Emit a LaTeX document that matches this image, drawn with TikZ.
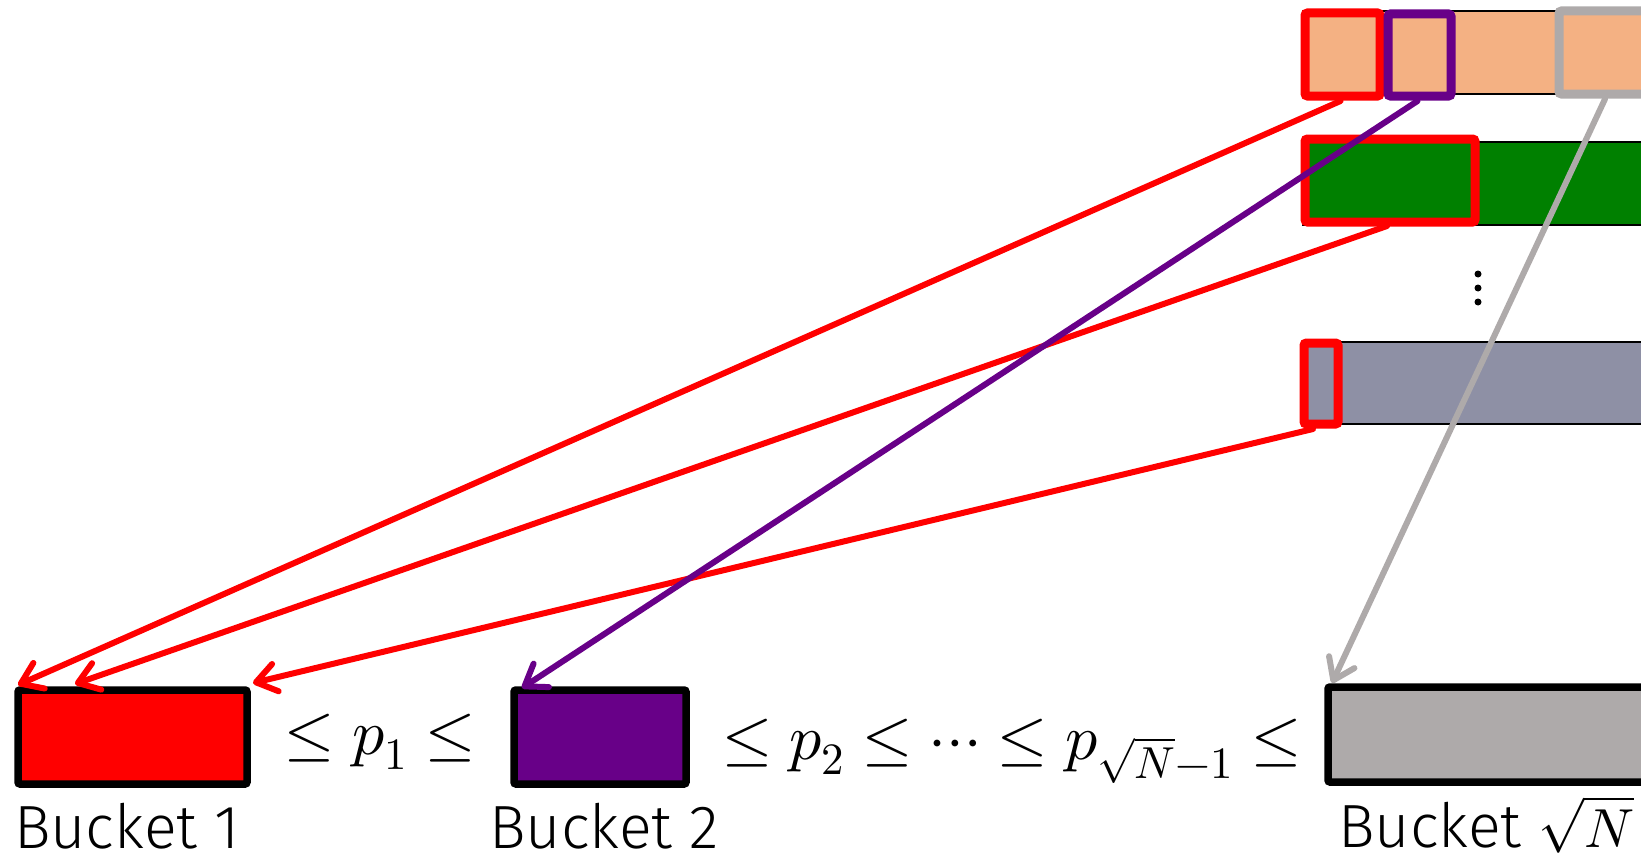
\documentclass[tikz,border=0pt]{standalone}
\usepackage{fontspec}
\usepackage{unicode-math}
\newfontfamily\bfam{Fira Sans Light}
\usetikzlibrary{arrows.meta,calc}
\definecolor{peach}{HTML}{F4B183}
\definecolor{dgreen}{HTML}{008000}
\definecolor{slate}{HTML}{8E90A5}
\definecolor{lgray}{HTML}{AEAAAA}
\definecolor{purp}{HTML}{680088}
\begin{document}
\begin{tikzpicture}[x=1pt,y=-1pt,
 bar/.style={draw=black,line width=1.5pt,inner sep=0pt,outer sep=0pt,anchor=north west},
 hl/.style={draw,line width=9pt,rounded corners=2.5pt,inner sep=0pt,outer sep=0pt,anchor=north west},
 bucket/.style={draw=black,line width=7.5pt,rounded corners=2pt,inner sep=0pt,outer sep=0pt,anchor=north west},
 arr/.style={line width=6pt,line cap=round,line join=round,-{Straight Barb[length=20pt,width=28pt,line cap=round,line join=round]}},
 lbl/.style={inner sep=0pt,anchor=base west,font=\bfam\fontsize{61}{63}\selectfont},
 rel/.style={inner sep=0pt,font=\fontsize{64}{66}\selectfont}]
\useasboundingbox (0,0) rectangle (1641,859);
% source bars
\node[bar,fill=peach,minimum width=400pt,minimum height=83pt] (barA) at (1303,11) {};
\node[bar,fill=dgreen,minimum width=400pt,minimum height=83pt] (barB) at (1303,142) {};
\node[bar,fill=slate,minimum width=400pt,minimum height=82pt] (barC) at (1303,342) {};
% highlighted segments
\node[hl,draw=red,minimum width=75pt,minimum height=83pt] (r1) at (1305,13) {};
\node[hl,draw=purp,minimum width=63pt,minimum height=82pt] (p1) at (1388,14) {};
\node[hl,draw=lgray,minimum width=141pt,minimum height=83pt] (g1) at (1559,11) {};
\node[hl,draw=red,minimum width=170pt,minimum height=83pt] (r2) at (1305,139) {};
\node[hl,draw=red,minimum width=34pt,minimum height=81pt] (r3) at (1304,343) {};
% vertical dots
\fill (1478,274) circle (3.5);
\fill (1478,288) circle (3.5);
\fill (1478,302) circle (3.5);
% buckets
\node[bucket,fill=red,minimum width=229pt,minimum height=94pt] (b1) at (18,690) {};
\node[bucket,fill=purp,minimum width=172pt,minimum height=94pt] (b2) at (514,690) {};
\node[bucket,fill=lgray,minimum width=372pt,minimum height=95pt] (b3) at (1328,687) {};
% relations
\node[rel,anchor=base] (le1) at (380,754) {$\le p_1 \le$};
\node[rel,anchor=base west] (le2) at (722,759) {$\le p_2 \le \cdots \le p_{\sqrt{N}-1} \le$};
% labels
\node[lbl] (t1) at (14,848) {Bucket 1};
\node[lbl] (t2) at (489,848) {Bucket 2};
\node[lbl] (t3) at (1338,847) {Bucket {\fontsize{55}{57}\selectfont$\sqrt{N}$}};
% arrows
\draw[arr,red] ($(r1.south)+(-2,5)$) -- ($(b1.north west)+(0,-5)$);
\draw[arr,red] ($(r2.south)+(-3,4)$) -- ($(b1.north west)+(57,-6)$);
\draw[arr,red] ($(r3.south)+(-8,5)$) -- ($(b1.north east)+(6,-7)$);
\draw[arr,purp] ($(p1.south)+(-2,5)$) -- ($(b2.north west)+(8,-2)$);
\draw[arr,lgray] ($(g1.south west)+(46,5)$) -- ($(b3.north west)+(4,-4)$);
\end{tikzpicture}
\end{document}
